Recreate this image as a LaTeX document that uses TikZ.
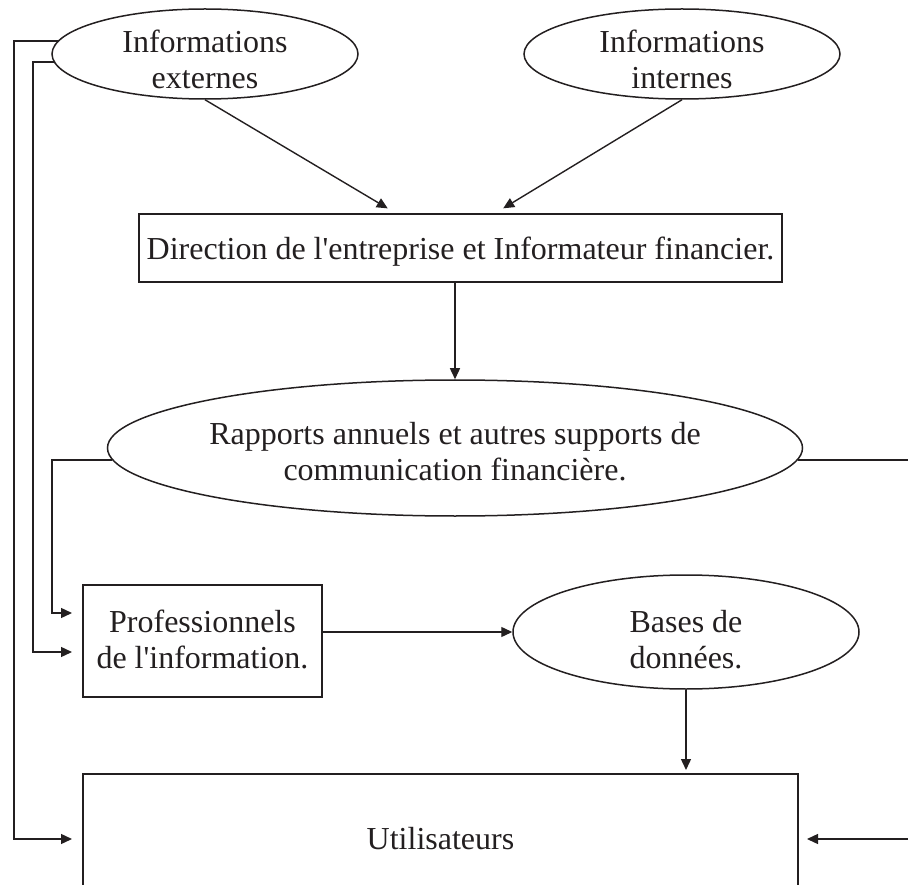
\documentclass[tikz,border=0pt]{standalone}
\usepackage{fontspec}
\newfontfamily\diagfont{Liberation Serif}
\usetikzlibrary{shapes.geometric,arrows.meta}
\definecolor{ink}{RGB}{35,31,32}
\newcommand\ntext[2]{\raisebox{-#1}[0pt][0pt]{\begin{tabular}[t]{@{}c@{}}#2\end{tabular}}}
\begin{document}
\begin{tikzpicture}[x=1pt,y=-1pt,
  every node/.style={font=\diagfont\fontsize{32}{36}\selectfont, text=ink},
  oval/.style={draw=ink, ellipse, line width=1.5pt, inner sep=0pt},
  box/.style={draw=ink, rectangle, line width=2pt, inner sep=0pt},
  con/.style={draw=ink, line width=1.4pt},
  arr/.style={con, -{Triangle[length=11pt,width=10pt]}}]
\useasboundingbox (0,0) rectangle (908,885);
% nodes
\node[oval, minimum width=306pt, minimum height=90pt] (ext) at (205,54) {\ntext{-1pt}{Informations\\externes}};
\node[oval, minimum width=316pt, minimum height=90pt] (int) at (682,54) {\ntext{-1pt}{Informations\\internes}};
\node[box, minimum width=643pt, minimum height=68pt] (dir) at (460.5,248) {\ntext{12pt}{Direction de l'entreprise et Informateur financier.}};
\node[oval, minimum width=654pt, minimum height=136pt] (rap) at (455,448) {\ntext{-4pt}{Rapports annuels et autres supports de\\communication financière.}};
\node[box, minimum width=239pt, minimum height=112pt] (pro) at (202.5,641) {\ntext{-9pt}{Professionnels\\de l'information.}};
\node[oval, minimum width=346pt, minimum height=114pt] (bas) at (686,632) {\ntext{0pt}{Bases de\\données.}};
\node[box, minimum width=715pt, minimum height=130pt] (uti) at (440.5,839) {\ntext{10pt}{Utilisateurs}};
% rails
\coordinate (railA) at (14,0);
\coordinate (railB) at (33,0);
\coordinate (railC) at (52,0);
\coordinate (railR) at (914,0);
\coordinate (pB) at ([yshift=-11pt]pro.west);
\coordinate (pC) at ([yshift=28pt]pro.west);
% connectors
\draw[arr, shorten >=9pt] (ext.south) -- ([xshift=-65pt]dir.north);
\draw[arr, shorten >=9pt] (int.south) -- ([xshift=35pt]dir.north);
\draw[arr] (rap.north |- dir.south) -- (rap.north);
\draw[arr, shorten >=10pt] (ext.175) -- (ext.175 -| railA) -- (railA |- uti.west) -- (uti.west);
\draw[arr, shorten >=10pt] (ext.183) -- (ext.183 -| railB) -- (railB |- pB) -- (pB);
\draw[arr, shorten >=10pt] (rap.182) -- (rap.182 -| railC) -- (railC |- pC) -- (pC);
\draw[arr, shorten >=8pt] (rap.358) -- (rap.358 -| railR) -- (railR |- uti.east) -- (uti.east);
\draw[arr] (pro.east |- bas.west) -- (bas.west);
\draw[arr, shorten >=3pt] (bas.south) -- (bas.south |- uti.north);
\end{tikzpicture}
\end{document}
